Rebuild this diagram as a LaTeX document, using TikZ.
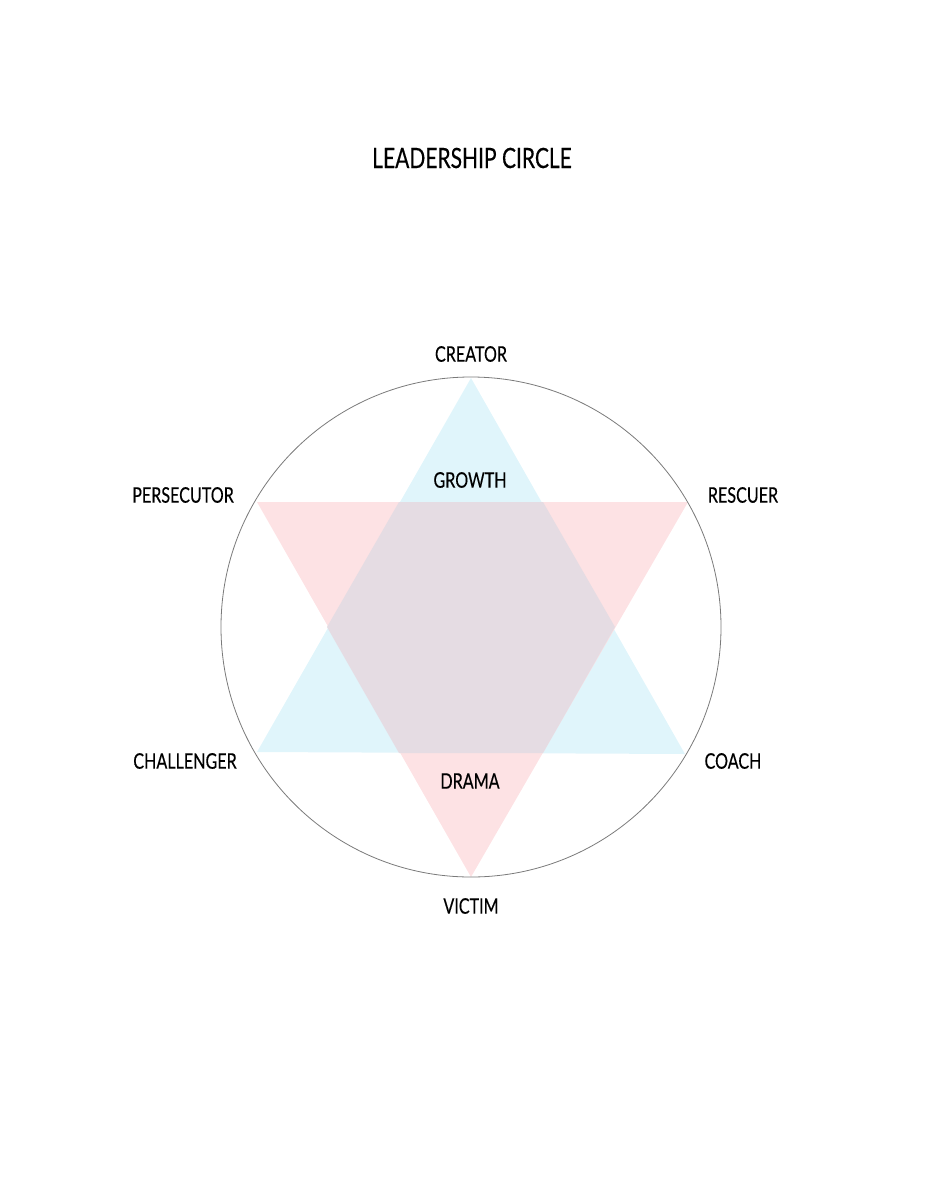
\documentclass[tikz,border=0pt]{standalone}
\usepackage{fontspec}
\setmainfont{Lato}[FakeStretch=0.75,FakeBold=0.3]
\definecolor{blueT}{HTML}{E0F5FB}
\definecolor{redT}{HTML}{FDE2E4}
\definecolor{mixT}{HTML}{E5DCE3}
\definecolor{ringC}{HTML}{7A7A7A}
\begin{document}
\begin{tikzpicture}[x=1pt,y=-1pt,
  lbl/.style={inner sep=0pt,font=\fontsize{21.5}{25}\selectfont},
  ttl/.style={inner sep=0pt,font=\fontsize{28}{32}\selectfont}]
\useasboundingbox (0,0) rectangle (943,1200);
\coordinate (c) at (471,627);
% blue triangle
\coordinate (b1) at (471,378);
\coordinate (b2) at (257,752);
\coordinate (b3) at (685,754);
% red triangle
\coordinate (r1) at (257,502);
\coordinate (r2) at (688,502);
\coordinate (r3) at (471,877);
\fill[blueT] (b1) -- (b2) -- (b3) -- cycle;
\fill[redT] (r1) -- (r2) -- (r3) -- cycle;
\fill[mixT] (399,502) -- (543,502) -- (615,627) -- (543,753) -- (399,753) -- (327,627) -- cycle;
\draw[ringC,line width=0.8pt] (c) circle[radius=250];
\node[ttl] (title) at (472,158) {LEADERSHIP CIRCLE};
\node[lbl] (creator) at (471,354) {CREATOR};
\node[lbl] (persecutor) at (183,495) {PERSECUTOR};
\node[lbl] (rescuer) at (743,495) {RESCUER};
\node[lbl] (challenger) at (185,761) {CHALLENGER};
\node[lbl] (coach) at (733,761) {COACH};
\node[lbl] (victim) at (471,906) {VICTIM};
\node[lbl] (growth) at (470,480) {GROWTH};
\node[lbl] (drama) at (470,781) {DRAMA};
\end{tikzpicture}
\end{document}
